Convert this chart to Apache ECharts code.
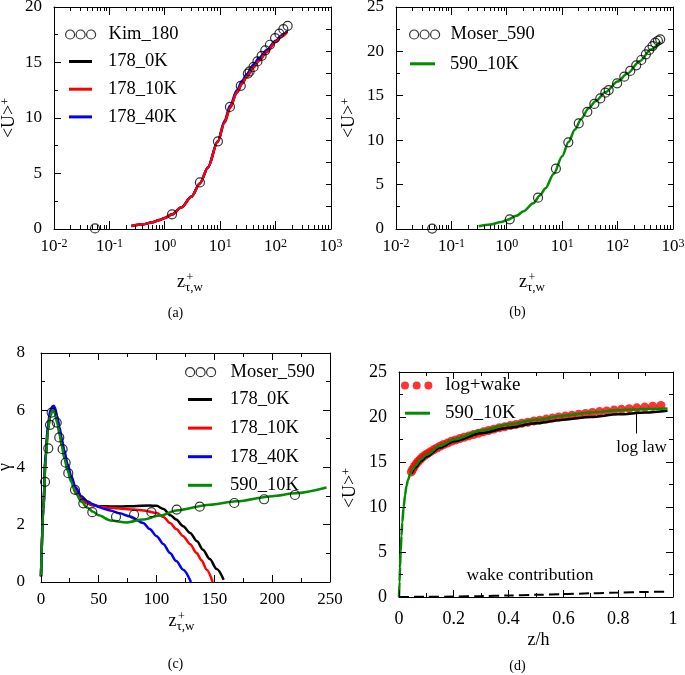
<!DOCTYPE html>
<html><head><meta charset="utf-8">
<script src="https://cdn.jsdelivr.net/npm/echarts@6/dist/echarts.min.js"></script>
<style>html,body{margin:0;padding:0;background:#fff}#c{width:685px;height:675px}</style>
</head><body><div id="c"></div>
<script>
// ---------------- data ----------------
// (a) Kim_180 DNS and 178 cases (x: z+, y: <U>+)
const kimX = [0.055, 1.35, 4.3, 9.1, 15, 23.5, 31.5, 34, 40, 47, 56, 65, 79, 98, 117, 138, 165];
const kimY = [0.05, 1.32, 4.2, 7.9, 11.0, 12.9, 14.0, 14.2, 14.6, 15.1, 15.6, 16.1, 16.6, 17.2, 17.6, 18.0, 18.3];
const a178X = [0.25, 0.4, 0.6, 0.8, 1, 1.35, 2, 3, 4.3, 6, 9, 12, 15, 20, 25, 30, 40, 50, 70, 100, 130, 162];
const a178_0K = [0.27, 0.42, 0.6, 0.8, 1.0, 1.32, 1.95, 2.9, 4.1, 5.55, 7.85, 9.6, 10.9, 12.3, 13.1, 13.7, 14.6, 15.2, 16.0, 16.9, 17.4, 17.8];
const a178_10K = [0.27, 0.42, 0.6, 0.8, 1.0, 1.32, 1.95, 2.9, 4.1, 5.55, 7.85, 9.6, 10.9, 12.3, 13.1, 13.7, 14.55, 15.15, 15.95, 16.85, 17.35, 17.75];
const a178_40K = [0.27, 0.42, 0.6, 0.8, 1.0, 1.32, 1.95, 2.9, 4.1, 5.55, 7.9, 9.75, 11.1, 12.5, 13.35, 13.95, 14.8, 15.4, 16.15, 16.95, 17.45, 17.8];

// (b) Moser_590 and 590_10K
const mosBX = [0.045, 1.13, 3.66, 7.7, 12.9, 19.9, 28.4, 38, 48.7, 60, 69, 98, 132, 169, 217, 268, 324, 373, 427, 477, 535, 587];
const mosBY = [0.05, 1.09, 3.53, 6.8, 9.76, 11.9, 13.2, 14.08, 14.7, 15.35, 15.65, 16.4, 17.15, 17.8, 18.43, 19.03, 19.67, 20.16, 20.6, 20.98, 21.2, 21.36];
const b590X = [0.31, 0.5, 0.8, 1, 1.5, 2, 3, 4, 5, 7, 10, 13, 17, 22, 30, 40, 60, 100, 150, 250, 400, 590];
const b590Y = [0.3, 0.5, 0.8, 1.0, 1.5, 2.0, 2.9, 3.8, 4.6, 6.2, 8.2, 9.8, 11.2, 12.4, 13.6, 14.4, 15.4, 16.6, 17.5, 18.9, 20.2, 21.1];

// (c) gamma
const mosCX = [3.5, 6.3, 7.8, 9.2, 13.6, 15.8, 18.7, 21.3, 23.6, 29.4, 36.6, 44.4, 64.9, 80.5, 95.5, 117.4, 137.3, 167.2, 193, 219.7];
const mosCY = [3.5, 4.67, 5.49, 5.92, 5.57, 5.05, 4.64, 4.17, 3.8, 3.22, 2.75, 2.44, 2.28, 2.35, 2.44, 2.53, 2.63, 2.76, 2.89, 3.04];
const c0KX = [0, 2, 4, 6, 8, 10, 11, 12, 14, 16, 18, 20, 23, 26, 30, 35, 40, 45, 50, 60, 70, 80, 94, 100, 106, 112, 117, 123, 129, 135, 140, 146, 152, 158];
const c0KY = [0.2, 2.55, 4.35, 5.35, 5.85, 6.05, 6.07, 6.0, 5.7, 5.3, 4.9, 4.5, 4.0, 3.6, 3.2, 2.9, 2.75, 2.68, 2.65, 2.64, 2.64, 2.65, 2.67, 2.66, 2.55, 2.33, 2.18, 1.95, 1.71, 1.42, 1.13, 0.8, 0.45, 0.08];
const c10KX = [0, 2, 4, 6, 8, 10, 11, 12, 14, 16, 18, 20, 23, 26, 30, 35, 40, 45, 50, 60, 70, 80, 88.5, 100, 106, 111.6, 117, 123, 129, 134.6, 139, 143.3, 148.5];
const c10KY = [0.2, 2.55, 4.35, 5.35, 5.85, 6.05, 6.07, 6.0, 5.7, 5.3, 4.9, 4.5, 4.0, 3.6, 3.2, 2.9, 2.75, 2.68, 2.64, 2.59, 2.56, 2.53, 2.5, 2.41, 2.27, 2.06, 1.85, 1.6, 1.32, 1.01, 0.75, 0.43, 0.0];
const c40KX = [0, 2, 4, 6, 8, 10, 11, 12, 14, 16, 18, 20, 23, 26, 30, 35, 40, 45, 50, 55, 60, 68, 77, 88.5, 94, 100, 106, 111.6, 117, 123, 129.7];
const c40KY = [0.2, 2.6, 4.45, 5.5, 6.0, 6.14, 6.16, 6.1, 5.8, 5.4, 5.0, 4.62, 4.12, 3.72, 3.3, 3.0, 2.82, 2.72, 2.62, 2.55, 2.5, 2.4, 2.29, 2.06, 1.85, 1.6, 1.32, 1.01, 0.73, 0.43, 0.0];
const c590X = [0, 2, 4, 6, 8, 10, 12, 14, 16, 18, 20, 23, 26, 30, 35, 40, 45, 50, 60, 74, 88, 103, 117, 146, 169, 200, 220, 247];
const c590Y = [0.2, 2.5, 4.3, 5.3, 5.8, 6.0, 5.9, 5.55, 5.15, 4.75, 4.35, 3.9, 3.5, 3.1, 2.8, 2.6, 2.45, 2.33, 2.15, 2.08, 2.18, 2.32, 2.5, 2.7, 2.82, 3.0, 3.1, 3.3];

// (d) outer scaling
const dDotX = [0.045, 0.05, 0.056, 0.063, 0.07, 0.078, 0.086, 0.095, 0.105, 0.115, 0.126, 0.138, 0.15, 0.163, 0.177, 0.191, 0.206, 0.222, 0.238, 0.255, 0.272, 0.29, 0.308, 0.327, 0.346, 0.366, 0.386, 0.406, 0.427, 0.448, 0.47, 0.492, 0.514, 0.537, 0.56, 0.583, 0.607, 0.631, 0.656, 0.681, 0.706, 0.732, 0.758, 0.785, 0.812, 0.84, 0.868, 0.897, 0.926, 0.956];
const dDotY = [13.9, 14.2, 14.5, 14.8, 15.05, 15.3, 15.55, 15.75, 15.95, 16.15, 16.35, 16.55, 16.75, 16.95, 17.1, 17.3, 17.45, 17.6, 17.75, 17.9, 18.05, 18.2, 18.35, 18.5, 18.65, 18.8, 18.92, 19.05, 19.18, 19.3, 19.42, 19.55, 19.65, 19.77, 19.88, 20.0, 20.1, 20.2, 20.3, 20.4, 20.5, 20.6, 20.68, 20.77, 20.85, 20.93, 21.02, 21.1, 21.2, 21.28];
const dLogX = [0.045, 0.06, 0.08, 0.1, 0.15, 0.2, 0.3, 0.4, 0.5, 0.6, 0.7, 0.8, 0.9, 0.98];
const dLogY = [13.7, 14.4, 15.1, 15.6, 16.6, 17.3, 18.2, 18.8, 19.3, 19.7, 20.0, 20.3, 20.5, 20.7];
const dGreenX = [0, 0.002, 0.004, 0.006, 0.009, 0.012, 0.017, 0.022, 0.027, 0.033, 0.04, 0.05, 0.06, 0.08, 0.1, 0.15, 0.2, 0.3, 0.4, 0.5, 0.6, 0.7, 0.8, 0.9, 0.98];
const dGreenY = [0, 1.7, 3.4, 5.0, 6.8, 8.3, 10.0, 11.3, 12.3, 13.0, 13.6, 14.2, 14.6, 15.3, 15.8, 16.8, 17.5, 18.5, 19.2, 19.7, 20.15, 20.5, 20.75, 20.9, 20.95];
const dWakeX = [0, 0.1, 0.2, 0.3, 0.4, 0.5, 0.6, 0.7, 0.8, 0.9, 0.98];
const dWakeY = [0, 0.02, 0.05, 0.1, 0.16, 0.24, 0.32, 0.41, 0.49, 0.56, 0.6];
const logLawPointer = [[0.8675, 20.38], [0.8675, 18.16]];

// ---------------- tick mark values ----------------
// log axis: decades (long) and 2..9 x decade (short)
const logTicks = [];
for (let e = -2; e <= 3; e++) {
  logTicks.push([Math.pow(10, e), 8]);
  if (e < 3) for (let k = 2; k < 10; k++) logTicks.push([k * Math.pow(10, e), 4]);
}
function linTicks(min, max, major, minor, majLen, minLen) {
  const out = [], n = Math.round((max - min) / minor), every = Math.round(major / minor);
  for (let i = 0; i <= n; i++) out.push([+(min + i * minor).toFixed(6), i % every === 0 ? majLen : minLen]);
  return out;
}
function tickItems(xMin, xMax, yMin, yMax, xt, ytL, ytR) {
  const items = [];
  xt.forEach(([v, len]) => { items.push([v, yMin, 0, -len]); items.push([v, yMax, 0, len]); });
  ytL.forEach(([v, len]) => items.push([xMin, v, len, 0]));
  ytR.forEach(([v, len]) => items.push([xMax, v, -len, 0]));
  return items;
}

// ---------------- helpers ----------------
const FONT = "'Liberation Serif', 'Times New Roman', serif";
const BLACK = '#000000', RED = '#ff0000', BLUE = '#0000ff', GREEN = '#008b00';
const pairs = (xs, ys) => xs.map((x, i) => [x, ys[i]]);
const frameLine = {show: true, onZero: false, lineStyle: {color: '#000', width: 1}};

function lin(grid, pos, min, max, interval, margin, fs) {
  return {type: 'value', gridIndex: grid, position: pos, min, max, interval,
    axisLine: frameLine, splitLine: {show: false}, axisTick: {show: false}, minorTick: {show: false},
    axisLabel: margin != null ? {show: true, margin, fontFamily: FONT, fontSize: fs || 17, color: '#000'} : {show: false}};
}
function logAx(grid, pos, withLabel) {
  return {type: 'log', logBase: 10, gridIndex: grid, position: pos, min: 0.01, max: 1000,
    axisLine: frameLine, splitLine: {show: false}, axisTick: {show: false},
    axisLabel: withLabel ? {show: true, margin: 9,
      formatter: v => '{b|10}{s|' + Math.round(Math.log10(v)) + '}',
      rich: {b: {fontFamily: FONT, fontSize: 17, color: '#000', lineHeight: 18},
             s: {fontFamily: FONT, fontSize: 12, color: '#000', verticalAlign: 'top', lineHeight: 8}}} : {show: false}};
}
function tickSeries(xi, yi, items) {
  return {type: 'custom', coordinateSystem: 'cartesian2d', xAxisIndex: xi, yAxisIndex: yi,
    silent: true, animation: false, clip: false, z: 6, data: items,
    renderItem: (params, api) => {
      const p = api.coord([api.value(0), api.value(1)]);
      const dx = api.value(2), dy = api.value(3);
      let x = p[0], y = p[1];
      if (dx === 0) x = Math.round(x - 0.5) + 0.5; else y = Math.round(y - 0.5) + 0.5;
      return {type: 'line', shape: {x1: x, y1: y, x2: x + dx, y2: y + dy}, style: {stroke: '#000', lineWidth: 1}};
    }};
}
function line(name, xs, ys, color, xi, yi, extra) {
  return Object.assign({type: 'line', name, data: pairs(xs, ys), xAxisIndex: xi, yAxisIndex: yi,
    symbol: 'none', showSymbol: false, smooth: 0.3, smoothMonotone: 'x',
    lineStyle: {color, width: 2.5}, itemStyle: {color}, animation: false}, extra || {});
}
function circles(name, xs, ys, xi, yi) {
  return {type: 'scatter', name, data: pairs(xs, ys), xAxisIndex: xi, yAxisIndex: yi,
    symbol: 'circle', symbolSize: 9,
    itemStyle: {color: 'rgba(0,0,0,0)', borderColor: '#000', borderWidth: 1.2}, animation: false, z: 3};
}
const CIRC3 = 'path://M0,4.5a4.5,4.5 0 1,0 9,0a4.5,4.5 0 1,0 -9,0M10.5,4.5a4.5,4.5 0 1,0 9,0a4.5,4.5 0 1,0 -9,0M21,4.5a4.5,4.5 0 1,0 9,0a4.5,4.5 0 1,0 -9,0';
const DOT3 = 'path://M0,4a4,4 0 1,0 8,0a4,4 0 1,0 -8,0M11.7,4a4,4 0 1,0 8,0a4,4 0 1,0 -8,0M23.4,4a4,4 0 1,0 8,0a4,4 0 1,0 -8,0';
function leg(data, left, top, w, h, gap, pad, fs) {
  return {orient: 'vertical', left, top, itemWidth: w, itemHeight: h, itemGap: gap, padding: 0,
    selectedMode: false, data,
    textStyle: {fontFamily: FONT, fontSize: fs || 18.5, color: '#000', padding: [0, 0, 0, pad]}};
}
const circItem = (name) => ({name, icon: CIRC3, itemStyle: {color: 'rgba(0,0,0,0)', borderColor: '#000', borderWidth: 1.2}});
const lineItem = (name, color) => ({name, icon: 'rect', itemStyle: {color, borderWidth: 0}});

function txt(x, y, text, size, extra) {
  return Object.assign({type: 'text', x, y, silent: true,
    style: {text, fontFamily: FONT, fontSize: size, fill: '#000', align: 'center', verticalAlign: 'middle'}}, extra || {});
}
function yTitle(x, y) {
  return {type: 'text', x, y, rotation: Math.PI / 2, silent: true,
    style: {text: '<U>{s|+}', fontFamily: FONT, fontSize: 18, fill: '#000', align: 'center', verticalAlign: 'middle',
      rich: {s: {fontFamily: FONT, fontSize: 12, fill: '#000', verticalAlign: 'top', lineHeight: 10}}}};
}
function zTitle(xz, yz) {
  return [
    txt(xz, yz, 'z', 18),
    txt(xz + 9, yz - 4.5, '+', 12),
    txt(xz + 4, yz + 5.6, 'τ,w', 13, {style: {text: 'τ,w', fontFamily: FONT, fontSize: 13, fill: '#000', align: 'left', verticalAlign: 'middle'}})
  ];
}

const gridBase = {containLabel: false, outerBoundsMode: 'none'};

const option = {
  animation: false,
  grid: [
    Object.assign({left: 54, top: 7, width: 277, height: 222}, gridBase),
    Object.assign({left: 396, top: 7, width: 277, height: 222}, gridBase),
    Object.assign({left: 41, top: 353, width: 289, height: 229}, gridBase),
    Object.assign({left: 399, top: 372, width: 274, height: 225}, gridBase)
  ],
  xAxis: [
    logAx(0, 'bottom', true),                  // 0
    logAx(0, 'top', false),                    // 1
    logAx(1, 'bottom', true),                  // 2
    logAx(1, 'top', false),                    // 3
    lin(2, 'bottom', 0, 250, 50, 9),           // 4
    lin(2, 'top', 0, 250, 50),                 // 5
    lin(3, 'bottom', 0, 1, 0.2, 13, 18),       // 6
    lin(3, 'top', 0, 1, 0.2)                   // 7
  ],
  yAxis: [
    lin(0, 'left', 0, 20, 5, 12),              // 0
    lin(0, 'right', 0, 20, 5),                 // 1
    lin(1, 'left', 0, 25, 5, 12),              // 2
    lin(1, 'right', 0, 25, 5),                 // 3
    lin(2, 'left', 0, 8, 2, 16),               // 4
    lin(2, 'right', 0, 8, 2),                  // 5
    lin(3, 'left', 0, 25, 5, 12, 18),          // 6
    lin(3, 'right', 0, 25, 5)                  // 7
  ],
  legend: [
    leg([circItem('Kim_180')], 65, 25, 30, 9, 9, 8),
    leg([lineItem('178_0K', BLACK), lineItem('178_10K', RED), lineItem('178_40K', BLUE)], 69, 52, 23, 3, 8.7, 11),
    leg([circItem('Moser_590')], 409, 25, 30, 9, 9, 6),
    leg([lineItem('590_10K', GREEN)], 410, 54.3, 25, 3, 9, 10),
    leg([circItem('Moser_590')], 185, 362.7, 30, 9, 9, 10),
    leg([lineItem('178_0K', BLACK), lineItem('178_10K', RED), lineItem('178_40K', BLUE), lineItem('590_10K', GREEN)], 188, 390, 24, 3, 9.6, 13),
    leg([{name: 'log+wake', icon: DOT3, itemStyle: {color: RED, borderWidth: 0}}], 401, 376, 31.4, 8, 9, 8, 19),
    leg([lineItem('590_10K', GREEN)], 405, 403.7, 25, 3, 9, 10, 19)
  ],
  series: [
    // tick marks (inside, on all four sides of each frame)
    tickSeries(0, 0, tickItems(0.01, 1000, 0, 20, logTicks, linTicks(0, 20, 5, 2.5, 7, 4), linTicks(0, 20, 2, 2, 5, 5))),
    tickSeries(2, 2, tickItems(0.01, 1000, 0, 25, logTicks, linTicks(0, 25, 5, 2.5, 7, 4), linTicks(0, 25, 2.5, 2.5, 5, 5))),
    tickSeries(4, 4, tickItems(0, 250, 0, 8, linTicks(0, 250, 50, 25, 7, 4), linTicks(0, 8, 2, 1, 7, 4), linTicks(0, 8, 2, 1, 7, 4))),
    tickSeries(6, 6, tickItems(0, 1, 0, 25, linTicks(0, 1, 0.2, 0.1, 7, 4), linTicks(0, 25, 5, 2.5, 7, 4), linTicks(0, 25, 5, 2.5, 7, 4))),
    // (a)
    line('178_0K', a178X, a178_0K, BLACK, 0, 0),
    line('178_40K', a178X, a178_40K, BLUE, 0, 0),
    line('178_10K', a178X, a178_10K, RED, 0, 0),
    circles('Kim_180', kimX, kimY, 0, 0),
    // (b)
    line('590_10K', b590X, b590Y, GREEN, 2, 2),
    circles('Moser_590', mosBX, mosBY, 2, 2),
    // (c)
    line('178_0K', c0KX, c0KY, BLACK, 4, 4),
    line('178_10K', c10KX, c10KY, RED, 4, 4),
    line('178_40K', c40KX, c40KY, BLUE, 4, 4),
    line('590_10K', c590X, c590Y, GREEN, 4, 4),
    circles('Moser_590', mosCX, mosCY, 4, 4),
    // (d)
    line('log law', dLogX, dLogY, BLACK, 6, 6, {
      markLine: {silent: true, symbol: 'none', animation: false, label: {show: false},
        lineStyle: {color: '#000', width: 1, type: 'solid'},
        data: [[{coord: logLawPointer[0]}, {coord: logLawPointer[1]}]]}}),
    line('wake contribution', dWakeX, dWakeY, BLACK, 6, 6, {lineStyle: {color: BLACK, width: 2, type: [10, 5]}}),
    {type: 'scatter', name: 'log+wake', data: pairs(dDotX, dDotY), xAxisIndex: 6, yAxisIndex: 6,
      symbol: 'circle', symbolSize: 9, itemStyle: {color: RED}, animation: false},
    line('590_10K', dGreenX, dGreenY, GREEN, 6, 6, {z: 4})
  ],
  graphic: [
    yTitle(9, 118), yTitle(349, 118), yTitle(350, 488),
    txt(5, 467, 'γ', 18, {rotation: Math.PI / 2}),
    ...zTitle(181, 282), ...zTitle(523, 282), ...zTitle(172.5, 621),
    txt(538.5, 640, 'z/h', 18),
    txt(175.5, 313, '(a)', 14), txt(517.5, 312, '(b)', 14),
    txt(175.5, 664, '(c)', 14), txt(517.5, 666, '(d)', 14),
    txt(641.5, 448, 'log law', 17),
    txt(530, 575, 'wake contribution', 17.5)
  ]
};
const chart = echarts.init(document.getElementById('c'));
chart.setOption(option);
</script></body></html>
